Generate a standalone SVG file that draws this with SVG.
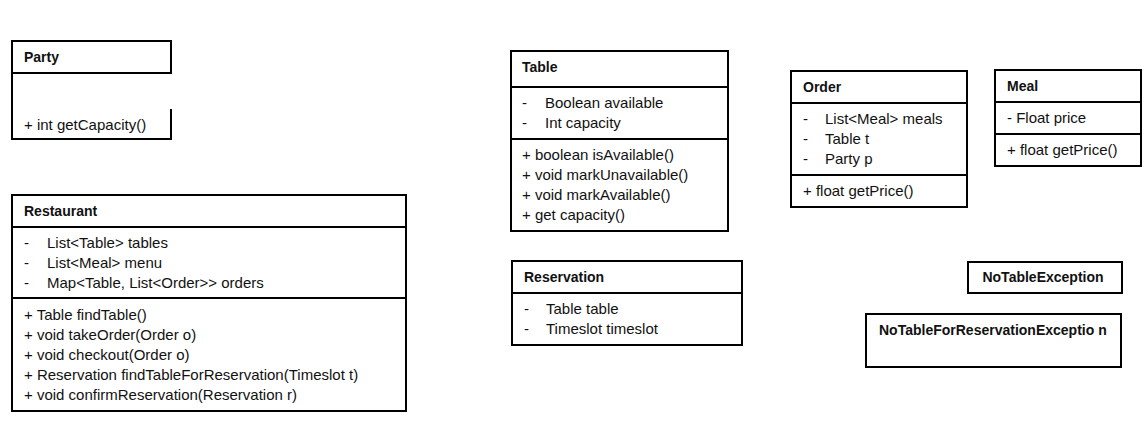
<svg xmlns="http://www.w3.org/2000/svg" width="1144" height="426" viewBox="0 0 1144 426">
<style>
.box{fill:#fff;stroke:#000;stroke-width:2}
.ln{stroke:#000;stroke-width:2;fill:none}
text{font-family:"Liberation Sans",Arial,sans-serif;font-size:15px;fill:#111}
.h{font-weight:bold;font-size:14px}
</style>
<rect width="1144" height="426" fill="#fff"/>
<g id="party">
<path class="ln" d="M171,109 V139 H12 V41 H171 V73 H12"/>
<text class="h" x="24" y="62">Party</text>
<text x="24" y="130">+ int getCapacity()</text>
</g>
<g id="restaurant">
<rect class="box" x="12" y="195" width="394" height="216"/>
<path class="ln" d="M12,227 H406 M12,298 H406"/>
<text class="h" x="24" y="216">Restaurant</text>
<text x="24" y="248">-</text><text x="47" y="248">List&lt;Table&gt; tables</text>
<text x="24" y="268">-</text><text x="47" y="268">List&lt;Meal&gt; menu</text>
<text x="24" y="288">-</text><text x="47" y="288">Map&lt;Table, List&lt;Order&gt;&gt; orders</text>
<text x="24" y="320">+ Table findTable()</text>
<text x="24" y="340">+ void takeOrder(Order o)</text>
<text x="24" y="360">+ void checkout(Order o)</text>
<text x="24" y="380">+ Reservation findTableForReservation(Timeslot t)</text>
<text x="24" y="400">+ void confirmReservation(Reservation r)</text>
</g>
<g id="table">
<rect class="box" x="511" y="51" width="217" height="180"/>
<path class="ln" d="M511,87 H728 M511,139 H728"/>
<text class="h" x="522" y="72">Table</text>
<text x="522" y="108">-</text><text x="545" y="108">Boolean available</text>
<text x="522" y="128">-</text><text x="545" y="128">Int capacity</text>
<text x="522" y="160">+ boolean isAvailable()</text>
<text x="522" y="180">+ void markUnavailable()</text>
<text x="522" y="200">+ void markAvailable()</text>
<text x="522" y="220">+ get capacity()</text>
</g>
<g id="reservation">
<rect class="box" x="512" y="261" width="230" height="84"/>
<path class="ln" d="M512,293 H742"/>
<text class="h" x="524" y="282">Reservation</text>
<text x="524" y="314">-</text><text x="546" y="314">Table table</text>
<text x="524" y="334">-</text><text x="546" y="334">Timeslot timeslot</text>
</g>
<g id="order">
<rect class="box" x="791" y="71" width="176" height="136"/>
<path class="ln" d="M791,103 H967 M791,175 H967"/>
<text class="h" x="803" y="92">Order</text>
<text x="803" y="124">-</text><text x="825" y="124">List&lt;Meal&gt; meals</text>
<text x="803" y="144">-</text><text x="825" y="144">Table t</text>
<text x="803" y="164">-</text><text x="825" y="164">Party p</text>
<text x="803" y="196">+ float getPrice()</text>
</g>
<g id="meal">
<rect class="box" x="995" y="70" width="146" height="96"/>
<path class="ln" d="M995,102 H1141 M995,134 H1141"/>
<text class="h" x="1007" y="91">Meal</text>
<text x="1007" y="123">- Float price</text>
<text x="1007" y="155">+ float getPrice()</text>
</g>
<g id="notableexception">
<rect class="box" x="968" y="262" width="154" height="31"/>
<text class="h" x="1043" y="282" text-anchor="middle">NoTableException</text>
</g>
<g id="notableforreservationexception">
<rect class="box" x="866" y="314" width="255" height="53"/>
<text class="h" x="879" y="335">NoTableForReservationExceptio n</text>
</g>
<g id="connectors"/>
</svg>
